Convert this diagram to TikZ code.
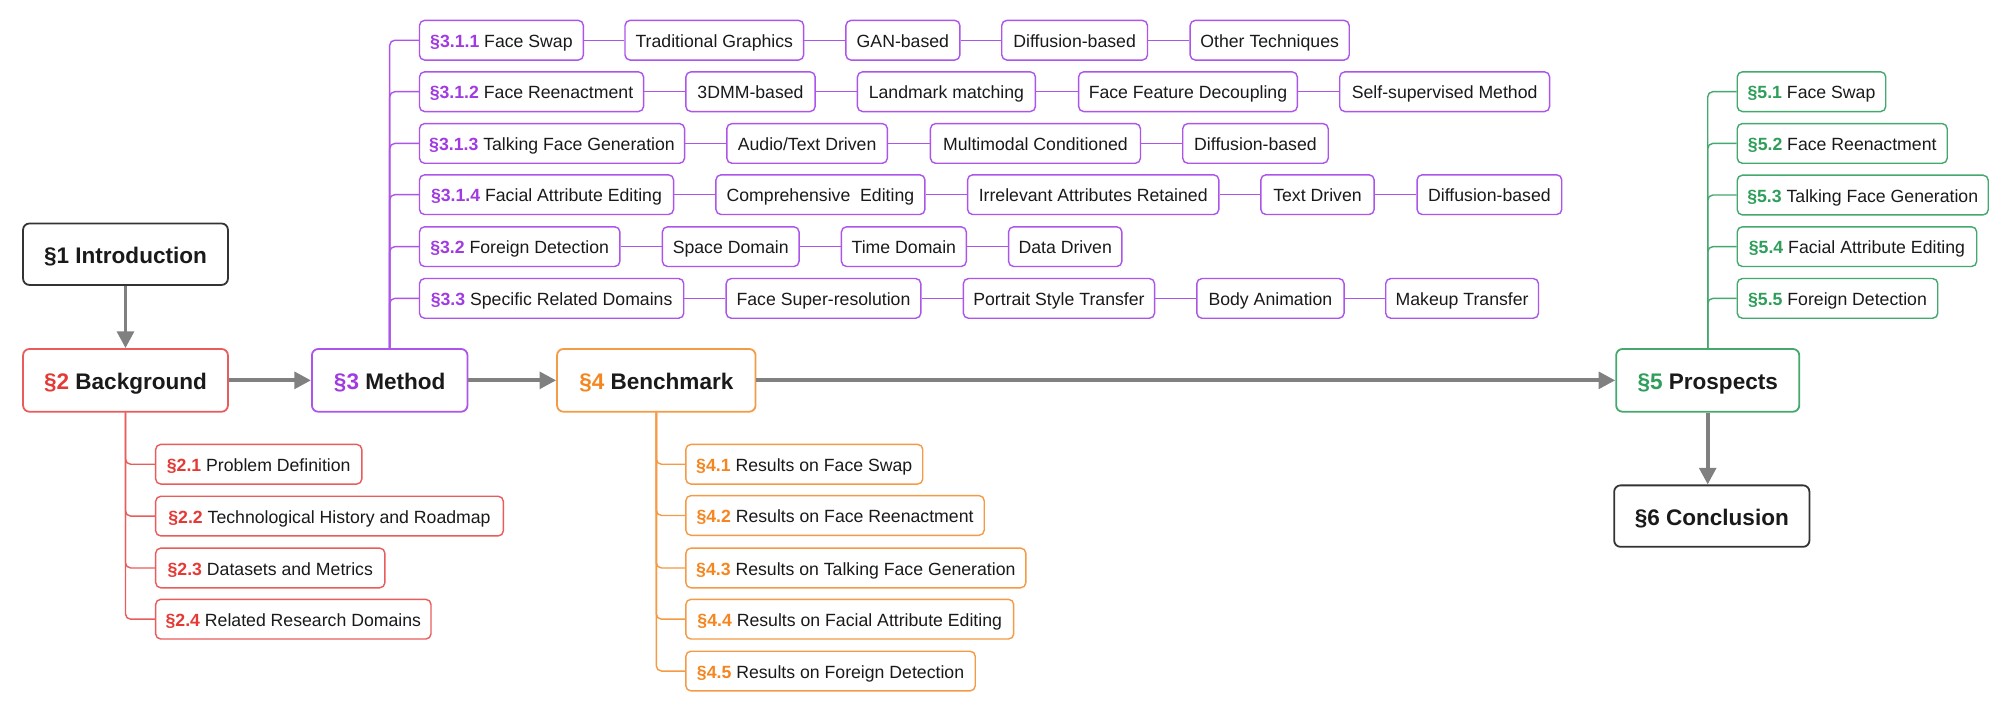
\documentclass[tikz,border=0pt]{standalone}
\usepackage{fontspec}
\setmainfont{Liberation Sans}
\usetikzlibrary{arrows.meta}
\definecolor{cred}{HTML}{E53935}
\definecolor{bred}{HTML}{E85C5C}
\definecolor{cpur}{HTML}{A03BE2}
\definecolor{bpur}{HTML}{AD55EA}
\definecolor{cora}{HTML}{F5861F}
\definecolor{bora}{HTML}{F59A45}
\definecolor{cgre}{HTML}{2E9E5A}
\definecolor{bgre}{HTML}{45A86E}
\definecolor{bblk}{HTML}{333333}
\definecolor{txt}{HTML}{1A1A1A}
\definecolor{agray}{HTML}{808080}
\begin{document}
\begin{tikzpicture}[x=1pt,y=-1pt,
  sub/.style={draw, rounded corners=4, line width=1.1, minimum height=31, inner sep=0,
    text height=11, text depth=0,
    font=\fontsize{13.8}{16}\selectfont, anchor=west, text=txt},
  mainbox/.style={draw, rounded corners=5, line width=1.4, minimum height=49, inner sep=0,
    text height=14, text depth=0,
    font=\bfseries\fontsize{17.6}{20}\selectfont, text=txt},
  rsub/.style={sub, draw=bred}, psub/.style={sub, draw=bpur},
  osub/.style={sub, draw=bora}, gsub/.style={sub, draw=bgre},
  arr/.style={draw=agray, line width=3, -{Triangle[length=13,width=13]}},
  rl/.style={draw=bred, line width=1.1, rounded corners=4},
  pl/.style={draw=bpur, line width=1.1, rounded corners=4},
  ol/.style={draw=bora, line width=1.1, rounded corners=4},
  gl/.style={draw=bgre, line width=1.1, rounded corners=4},
]
\useasboundingbox[fill=white] (0,0) rectangle (1568,555.2);

% main boxes
\node[mainbox, draw=bblk, minimum width=160, minimum height=48] (intro) at (98,198.5) {§1 Introduction};
\node[mainbox, draw=bred, minimum width=160] (bg) at (98,297) {{\color{cred}§2} Background};
\node[mainbox, draw=bpur, minimum width=121.5] (meth) at (304.3,297) {{\color{cpur}§3} Method};
\node[mainbox, draw=bora, minimum width=155] (bench) at (512.5,297) {{\color{cora}§4} Benchmark};
\node[mainbox, draw=bgre, minimum width=143] (pros) at (1333.5,297) {{\color{cgre}§5} Prospects};
\node[mainbox, draw=bblk, minimum width=152.5, minimum height=48] (concl) at (1336.7,403) {§6 Conclusion};

\draw[arr] (intro) -- (bg);
\draw[arr] (bg) -- (meth);
\draw[arr] (meth) -- (bench);
\draw[arr] (bench) -- (pros);
\draw[arr] (pros.south) -- (pros.south |- concl.north);

% background children
\node[rsub, minimum width=161] (b1) at (121,362.5) {{\bfseries\color{cred}§2.1} Problem Definition};
\node[rsub, minimum width=271.5] (b2) at (121,403) {{\bfseries\color{cred}§2.2} Technological History and Roadmap};
\node[rsub, minimum width=179] (b3) at (121,443.5) {{\bfseries\color{cred}§2.3} Datasets and Metrics};
\node[rsub, minimum width=215] (b4) at (121,483.5) {{\bfseries\color{cred}§2.4} Related Research Domains};
\foreach \c in {b1,b2,b3,b4} \draw[rl] (bg.south) |- (\c.west);

% benchmark children
\node[osub, minimum width=185] (c1) at (535,362.5) {{\bfseries\color{cora}§4.1} Results on Face Swap};
\node[osub, minimum width=233] (c2) at (535,402.5) {{\bfseries\color{cora}§4.2} Results on Face Reenactment};
\node[osub, minimum width=265.5] (c3) at (535,443.5) {{\bfseries\color{cora}§4.3} Results on Talking Face Generation};
\node[osub, minimum width=256] (c4) at (535,483.5) {{\bfseries\color{cora}§4.4} Results on Facial Attribute Editing};
\node[osub, minimum width=226] (c5) at (535,524) {{\bfseries\color{cora}§4.5} Results on Foreign Detection};
\foreach \c in {c1,c2,c3,c4,c5} \draw[ol] (bench.south) |- (\c.west);

% prospects children
\node[gsub, minimum width=116] (p1) at (1356,71.6) {{\bfseries\color{cgre}§5.1} Face Swap};
\node[gsub, minimum width=164] (p2) at (1356,112) {{\bfseries\color{cgre}§5.2} Face Reenactment};
\node[gsub, minimum width=196] (p3) at (1356,152.3) {{\bfseries\color{cgre}§5.3} Talking Face Generation};
\node[gsub, minimum width=187] (p4) at (1356,192.6) {{\bfseries\color{cgre}§5.4} Facial Attribute Editing};
\node[gsub, minimum width=156.6] (p5) at (1356,233) {{\bfseries\color{cgre}§5.5} Foreign Detection};
\foreach \c in {p1,p2,p3,p4,p5} \draw[gl] (pros.north) |- (\c.west);

% method rows
% row 1
\node[psub, minimum width=128] (m1) at (327,31.4) {{\bfseries\color{cpur}§3.1.1} Face Swap};
\node[psub, minimum width=139.5] (m1a) at (487.5,31.4) {Traditional Graphics};
\node[psub, minimum width=89] (m1b) at (660,31.4) {GAN-based};
\node[psub, minimum width=113.8] (m1c) at (781.7,31.4) {Diffusion-based};
\node[psub, minimum width=124.2] (m1d) at (928.8,31.4) {Other Techniques};
\draw[pl] (m1) -- (m1a) (m1a) -- (m1b) (m1b) -- (m1c) (m1c) -- (m1d);
% row 2
\node[psub, minimum width=175] (m2) at (327,71.6) {{\bfseries\color{cpur}§3.1.2} Face Reenactment};
\node[psub, minimum width=101] (m2a) at (535,71.6) {3DMM-based};
\node[psub, minimum width=139] (m2b) at (669,71.6) {Landmark matching};
\node[psub, minimum width=170.8] (m2c) at (841.7,71.6) {Face Feature Decoupling};
\node[psub, minimum width=163.9] (m2d) at (1045.6,71.6) {Self-supervised Method};
\draw[pl] (m2) -- (m2a) (m2a) -- (m2b) (m2b) -- (m2c) (m2c) -- (m2d);
% row 3
\node[psub, minimum width=207] (m3) at (327,112) {{\bfseries\color{cpur}§3.1.3} Talking Face Generation};
\node[psub, minimum width=125.4] (m3a) at (567,112) {Audio/Text Driven};
\node[psub, minimum width=164] (m3b) at (726,112) {Multimodal Conditioned};
\node[psub, minimum width=113.6] (m3c) at (923,112) {Diffusion-based};
\draw[pl] (m3) -- (m3a) (m3a) -- (m3b) (m3b) -- (m3c);
% row 4
\node[psub, minimum width=198.4] (m4) at (327,152) {{\bfseries\color{cpur}§3.1.4} Facial Attribute Editing};
\node[psub, minimum width=163.2] (m4a) at (558.5,152) {Comprehensive~ Editing};
\node[psub, minimum width=196.2] (m4b) at (755,152) {Irrelevant Attributes Retained};
\node[psub, minimum width=88.5] (m4c) at (984,152) {Text Driven};
\node[psub, minimum width=113] (m4d) at (1106,152) {Diffusion-based};
\draw[pl] (m4) -- (m4a) (m4a) -- (m4b) (m4b) -- (m4c) (m4c) -- (m4d);
% row 5
\node[psub, minimum width=156.5] (m5) at (327,192.6) {{\bfseries\color{cpur}§3.2} Foreign Detection};
\node[psub, minimum width=106.7] (m5a) at (516.7,192.6) {Space Domain};
\node[psub, minimum width=97.5] (m5b) at (656.5,192.6) {Time Domain};
\node[psub, minimum width=88.5] (m5c) at (787,192.6) {Data Driven};
\draw[pl] (m5) -- (m5a) (m5a) -- (m5b) (m5b) -- (m5c);
% row 6
\node[psub, minimum width=206.4] (m6) at (327,233) {{\bfseries\color{cpur}§3.3} Specific Related Domains};
\node[psub, minimum width=152] (m6a) at (566.5,233) {Face Super-resolution};
\node[psub, minimum width=149.3] (m6b) at (751.7,233) {Portrait Style Transfer};
\node[psub, minimum width=115] (m6c) at (934,233) {Body Animation};
\node[psub, minimum width=119.3] (m6d) at (1081.5,233) {Makeup Transfer};
\draw[pl] (m6) -- (m6a) (m6a) -- (m6b) (m6b) -- (m6c) (m6c) -- (m6d);

\foreach \c in {m1,m2,m3,m4,m5,m6} \draw[pl] (meth.north) |- (\c.west);
\end{tikzpicture}
\end{document}
